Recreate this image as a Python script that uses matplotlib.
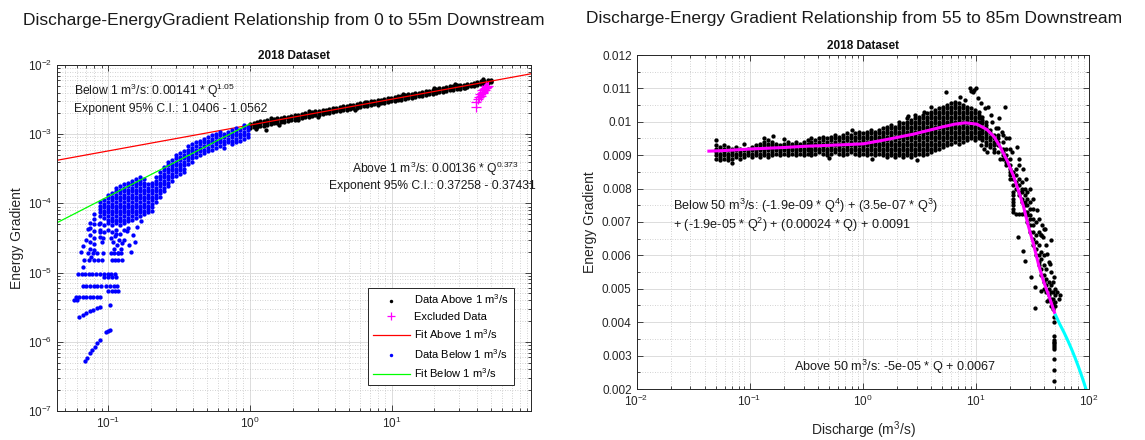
import numpy as np
import matplotlib
matplotlib.use("Agg")
import matplotlib.pyplot as plt
from matplotlib.ticker import LogLocator, FixedLocator, MultipleLocator, FuncFormatter, NullFormatter

plt.rcParams['font.family'] = ['Liberation Sans', 'DejaVu Sans']
plt.rcParams['mathtext.fontset'] = 'custom'
plt.rcParams['mathtext.rm'] = 'Liberation Sans'
plt.rcParams['mathtext.it'] = 'Liberation Sans:italic'
plt.rcParams['mathtext.bf'] = 'Liberation Sans:bold'

# ---------------- LEFT PANEL DATA (0 to 55 m) ----------------
# Data above 1 m3/s: (Q, upper, middle, lower) energy gradient in units of 1e-3
black_above_rows_milli = [
    (1.00, 1.42, 1.35, 1.22), (1.06, 1.46, 1.37, 1.25), (1.12, 1.50, 1.40, 1.28),
    (1.18, 1.53, 1.43, 1.30), (1.25, 1.56, 1.46, 1.33), (1.32, 1.59, 1.49, 1.36),
    (1.40, 1.62, 1.52, 1.40), (1.48, 1.66, 1.55, 1.43), (1.56, 1.69, 1.59, 1.46),
    (1.65, 1.72, 1.62, 1.49), (1.75, 1.76, 1.66, 1.52), (1.85, 1.80, 1.69, 1.56),
    (1.96, 1.84, 1.73, 1.60), (2.07, 1.88, 1.76, 1.63), (2.19, 1.92, 1.80, 1.67),
    (2.32, 1.96, 1.84, 1.71), (2.45, 2.00, 1.88, 1.75), (2.59, 2.04, 1.92, 1.79),
    (2.74, 2.09, 1.96, 1.83), (2.90, 2.13, 2.00, 1.87), (3.07, 2.18, 2.05, 1.92),
    (3.25, 2.22, 2.09, 1.96), (3.43, 2.27, 2.13, 2.00), (3.63, 2.32, 2.18, 2.04),
    (3.84, 2.36, 2.23, 2.09), (4.06, 2.41, 2.27, 2.13), (4.30, 2.47, 2.32, 2.18),
    (4.54, 2.52, 2.37, 2.22), (4.80, 2.57, 2.42, 2.27), (5.08, 2.63, 2.47, 2.32),
    (5.37, 2.68, 2.52, 2.37), (5.68, 2.74, 2.58, 2.42), (6.01, 2.80, 2.63, 2.47),
    (6.35, 2.85, 2.69, 2.52), (6.72, 2.92, 2.75, 2.58), (7.10, 2.97, 2.80, 2.63),
    (7.51, 3.04, 2.86, 2.69), (7.94, 3.10, 2.92, 2.74), (8.40, 3.17, 2.98, 2.80),
    (8.88, 3.23, 3.05, 2.86), (9.39, 3.30, 3.11, 2.92), (9.93, 3.37, 3.18, 2.98),
    (10.5, 3.45, 3.25, 3.05), (11.1, 3.52, 3.32, 3.11), (11.7, 3.59, 3.39, 3.17),
    (12.4, 3.67, 3.46, 3.24), (13.1, 3.75, 3.53, 3.31), (13.9, 3.83, 3.61, 3.39),
    (14.7, 3.91, 3.69, 3.46), (15.5, 3.99, 3.77, 3.53), (16.4, 4.08, 3.85, 3.61),
    (17.4, 4.17, 3.94, 3.69), (18.4, 4.27, 4.03, 3.77), (19.4, 4.37, 4.12, 3.85),
    (20.5, 4.47, 4.21, 3.93), (21.7, 4.58, 4.31, 4.02), (23.0, 4.69, 4.41, 4.11),
    (24.3, 4.80, 4.51, 4.20), (25.7, 4.92, 4.61, 4.29), (27.2, 5.03, 4.71, 4.38),
    (28.7, 5.12, 4.80, 4.46), (30.4, 5.20, 4.88, 4.55), (32.1, 5.22, 4.95, 4.70),
    (34.0, 5.30, 5.05, 4.85), (36.0, 5.40, 5.15, 4.95), (38.0, 5.55, 5.27, 5.05),
    (40.2, 5.68, 5.40, 5.15), (42.5, 5.80, 5.52, 5.25), (45.0, 5.95, 5.65, 5.38),
    (47.6, 6.05, 5.77, 5.50), (50.3, 6.15, 5.90, 5.62),
]
black_above_outliers_milli = [
    (1.10, 1.17), (1.29, 1.15), (1.60, 1.38), (2.20, 1.58), (3.00, 1.80), (5.50, 2.25),
    (8.00, 2.60), (12.0, 3.85), (28.0, 5.40), (2.60, 2.15), (6.50, 2.95), (20.0, 4.60),
    (44.0, 6.20), (33.0, 4.60), (1.40, 1.70),
]
excluded_points = [
    (39.0, 2.45e-3), (39.5, 2.9e-3), (40.5, 3.2e-3), (41.0, 3.5e-3), (42.0, 3.8e-3),
    (43.0, 4.0e-3), (43.5, 4.3e-3), (44.0, 4.1e-3), (44.5, 4.5e-3), (45.0, 4.4e-3),
    (45.5, 4.7e-3), (46.0, 4.6e-3), (46.5, 4.9e-3), (47.0, 4.8e-3), (42.5, 3.6e-3),
    (44.2, 3.9e-3), (45.8, 4.3e-3), (47.5, 5.0e-3),
]
# Data below 1 m3/s, dense part: (Q, [energy gradients])
blue_columns = [
    (0.0743, [5.2e-5, 4.4e-5, 3.5e-5, 2.8e-5, 2.2e-5]),
    (0.0800, [7.0e-5, 6.0e-5, 5.0e-5, 4.0e-5, 3.2e-5, 2.6e-5, 2.1e-5]),
    (0.0874, [1.05e-4, 9.3e-5, 8.3e-5, 7.4e-5, 6.6e-5, 5.2e-5, 4.13e-5, 3.27e-5]),
    (0.0933, [1.11e-4, 9.9e-5, 8.8e-5, 7.8e-5, 7.0e-5, 6.2e-5, 4.9e-5, 3.9e-5]),
    (0.0995, [1.32e-4, 1.18e-4, 1.05e-4, 9.3e-5, 8.3e-5, 7.4e-5, 6.6e-5, 5.85e-5, 5.2e-5, 4.13e-5]),
    (0.106, [1.40e-4, 1.25e-4, 1.11e-4, 9.9e-5, 8.8e-5, 7.8e-5, 7.0e-5, 6.2e-5, 5.5e-5, 4.9e-5, 3.9e-5]),
    (0.113, [1.67e-4, 1.49e-4, 1.32e-4, 1.18e-4, 1.05e-4, 9.3e-5, 8.3e-5, 7.4e-5, 6.6e-5, 5.85e-5, 5.2e-5, 4.13e-5]),
    (0.121, [1.77e-4, 1.575e-4, 1.40e-4, 1.25e-4, 1.11e-4, 9.9e-5, 8.8e-5, 7.8e-5, 7.0e-5, 6.2e-5, 5.5e-5, 4.9e-5]),
    (0.129, [1.88e-4, 1.67e-4, 1.49e-4, 1.32e-4, 1.18e-4, 1.05e-4, 9.3e-5, 8.3e-5, 7.4e-5, 6.6e-5, 5.85e-5, 5.2e-5, 4.13e-5]),
    (0.138, [1.99e-4, 1.77e-4, 1.575e-4, 1.40e-4, 1.25e-4, 1.11e-4, 9.9e-5, 8.8e-5, 7.8e-5, 7.0e-5, 6.2e-5, 5.5e-5, 4.38e-5]),
    (0.147, [2.11e-4, 1.88e-4, 1.67e-4, 1.49e-4, 1.32e-4, 1.18e-4, 1.05e-4, 9.3e-5, 8.3e-5, 7.4e-5, 6.6e-5, 5.85e-5]),
    (0.157, [2.24e-4, 1.99e-4, 1.77e-4, 1.575e-4, 1.40e-4, 1.25e-4, 1.11e-4, 9.9e-5, 8.8e-5, 7.8e-5, 7.0e-5, 6.2e-5]),
    (0.167, [2.37e-4, 2.11e-4, 1.88e-4, 1.67e-4, 1.49e-4, 1.32e-4, 1.18e-4, 1.05e-4, 9.3e-5, 8.3e-5, 7.4e-5, 6.6e-5]),
    (0.178, [2.24e-4, 1.99e-4, 1.77e-4, 1.575e-4, 1.40e-4, 1.25e-4, 1.11e-4, 9.9e-5, 8.8e-5, 7.8e-5, 7.0e-5]),
    (0.190, [1.88e-4, 1.67e-4, 1.49e-4, 1.32e-4, 1.18e-4, 1.05e-4, 9.3e-5, 8.3e-5, 7.4e-5]),
    (0.203, [1.99e-4, 1.77e-4, 1.575e-4, 1.40e-4, 1.25e-4, 1.11e-4, 9.9e-5, 8.8e-5, 7.8e-5]),
    (0.217, [2.37e-4, 2.11e-4, 1.88e-4, 1.67e-4, 1.49e-4, 1.32e-4, 1.18e-4, 1.05e-4]),
    (0.231, [2.82e-4, 2.51e-4, 2.24e-4, 1.99e-4, 1.77e-4, 1.575e-4, 1.40e-4, 1.25e-4]),
    (0.247, [3.36e-4, 2.99e-4, 2.66e-4, 2.37e-4, 2.11e-4, 1.88e-4, 1.67e-4, 1.49e-4]),
    (0.263, [4.0e-4, 3.56e-4, 3.17e-4, 2.82e-4, 2.51e-4, 2.24e-4, 1.99e-4, 1.77e-4]),
    (0.281, [4.24e-4, 3.77e-4, 3.36e-4, 2.99e-4, 2.66e-4, 2.37e-4, 2.11e-4]),
    (0.300, [5.05e-4, 4.49e-4, 4.0e-4, 3.56e-4, 3.17e-4, 2.82e-4, 2.51e-4]),
    (0.320, [5.35e-4, 4.76e-4, 4.24e-4, 3.77e-4, 3.36e-4, 2.99e-4, 2.66e-4]),
    (0.341, [5.67e-4, 5.05e-4, 4.49e-4, 4.0e-4, 3.56e-4, 3.17e-4, 2.82e-4]),
    (0.364, [6.75e-4, 6.01e-4, 5.35e-4, 4.76e-4, 4.24e-4, 3.77e-4]),
    (0.388, [7.16e-4, 6.37e-4, 5.67e-4, 5.05e-4, 4.49e-4, 4.0e-4]),
    (0.415, [7.59e-4, 6.75e-4, 6.01e-4, 5.35e-4, 4.76e-4]),
    (0.443, [8.04e-4, 7.16e-4, 6.37e-4, 5.67e-4, 5.05e-4]),
    (0.472, [8.52e-4, 7.59e-4, 6.75e-4, 6.01e-4, 5.35e-4]),
    (0.504, [9.03e-4, 8.04e-4, 7.16e-4, 6.37e-4, 5.67e-4]),
    (0.537, [9.58e-4, 8.52e-4, 7.59e-4, 6.75e-4, 6.01e-4]),
    (0.573, [1.015e-3, 9.03e-4, 8.04e-4, 7.16e-4, 6.37e-4]),
    (0.612, [1.08e-3, 9.58e-4, 8.52e-4, 7.59e-4, 6.75e-4]),
    (0.653, [1.015e-3, 9.03e-4, 8.04e-4, 7.16e-4, 6.37e-4]),
    (0.697, [1.08e-3, 9.58e-4, 8.52e-4, 7.59e-4]),
    (0.743, [1.14e-3, 1.015e-3, 9.03e-4, 8.04e-4, 7.16e-4]),
    (0.793, [1.21e-3, 1.08e-3, 9.58e-4, 8.52e-4, 7.59e-4]),
    (0.846, [1.14e-3, 1.015e-3, 9.03e-4, 8.04e-4]),
    (0.902, [1.36e-3, 1.21e-3, 1.08e-3, 9.58e-4, 8.52e-4]),
    (0.963, [1.28e-3, 1.14e-3, 1.015e-3, 9.03e-4]),
]
# Data below 1 m3/s, sparse part: (Q, energy gradient)
blue_sparse = [
    (0.072, 1.9e-5), (0.078, 1.9e-5), (0.084, 1.9e-5), (0.092, 1.9e-5), (0.104, 1.9e-5),
    (0.110, 1.9e-5), (0.117, 1.9e-5), (0.124, 1.9e-5),
    (0.068, 1.5e-5), (0.073, 1.5e-5), (0.079, 1.5e-5), (0.085, 1.5e-5), (0.091, 1.5e-5),
    (0.106, 1.5e-5), (0.112, 1.5e-5), (0.118, 1.5e-5), (0.125, 1.5e-5),
    (0.0615, 9.5e-6), (0.065, 9.5e-6), (0.069, 9.5e-6), (0.073, 9.5e-6), (0.077, 9.5e-6),
    (0.082, 9.5e-6), (0.087, 9.5e-6), (0.093, 9.5e-6), (0.099, 9.5e-6), (0.105, 9.5e-6),
    (0.111, 9.5e-6),
    (0.094, 8.5e-6), (0.100, 8.5e-6), (0.107, 8.5e-6), (0.113, 8.5e-6),
    (0.066, 6.3e-6), (0.070, 6.3e-6), (0.074, 6.3e-6), (0.079, 6.3e-6), (0.084, 6.3e-6),
    (0.089, 6.3e-6), (0.096, 6.3e-6), (0.103, 6.3e-6), (0.110, 6.3e-6), (0.115, 6.3e-6),
    (0.100, 5.4e-6), (0.106, 5.4e-6), (0.112, 5.4e-6), (0.117, 5.4e-6),
    (0.059, 4.4e-6), (0.062, 4.4e-6), (0.066, 4.4e-6), (0.070, 4.4e-6), (0.074, 4.4e-6),
    (0.078, 4.4e-6), (0.083, 4.4e-6), (0.088, 4.4e-6), (0.057, 4.0e-6), (0.060, 4.0e-6),
    (0.062, 2.3e-6), (0.066, 2.45e-6), (0.070, 2.6e-6), (0.074, 2.75e-6), (0.078, 2.9e-6),
    (0.083, 3.05e-6), (0.087, 3.2e-6), (0.103, 3.4e-6),
    (0.0686, 5.2e-7), (0.071, 5.9e-7), (0.0743, 6.8e-7), (0.0775, 7.6e-7), (0.0806, 8.5e-7),
    (0.084, 9.5e-7), (0.0875, 1.06e-6), (0.096, 1.38e-6), (0.100, 1.45e-6), (0.1029, 1.5e-6),
    (0.104, 3.2e-5), (0.108, 2.8e-5), (0.112, 3.4e-5), (0.116, 2.5e-5), (0.120, 3.0e-5),
    (0.124, 2.2e-5), (0.110, 2.2e-5), (0.118, 1.9e-5), (0.114, 3.6e-5), (0.126, 2.7e-5),
    (0.122, 3.6e-5), (0.130, 3.0e-5), (0.140, 2.5e-5), (0.150, 3.5e-5), (0.160, 4.5e-5),
    (0.170, 5.5e-5), (0.145, 2.0e-5), (0.135, 4.0e-5), (0.155, 2.8e-5),
    (0.064, 2.0e-5), (0.066, 1.2e-5), (0.070, 3.0e-5), (0.067, 2.4e-5), (0.072, 4.2e-5),
    (0.076, 1.7e-5), (0.088, 3.8e-5), (0.090, 2.8e-5), (0.092, 3.2e-5), (0.086, 5.0e-5),
]
# Fit lines (endpoints on the log-log axes)
fit_above_q = [0.0436, 96.0]
fit_above_g = [4.2e-4, 7.46e-3]
fit_below_q = [0.0436, 1.0]
fit_below_g = [5.26e-5, 1.41e-3]

# ---------------- RIGHT PANEL DATA (55 to 85 m) ----------------
right_columns = [
    (0.0505, [.0089, .0090, .0091, .0092, .0093]),
    (0.0548, [.00885, .00895, .00905, .00915, .00925]),
    (0.0594, [.0089, .0090, .0091, .0092, .0093]),
    (0.0644, [.00885, .00895, .00905, .00915, .00925]),
    (0.0698, [.0089, .0090, .0091, .0092]),
    (0.0757, [.00895, .00905, .00915, .00925]),
    (0.0821, [.0089, .0090, .0091, .0092]),
    (0.0890, [.00895, .00905, .00915]),
    (0.0965, [.0090, .0091, .0092]),
    (0.105, [.00895, .00905, .00915, .00925]),
    (0.113, [.0090, .0091, .0092, .0093]),
    (0.123, [.00895, .00905, .00915, .00925, .00935]),
    (0.133, [.0090, .0091, .0092, .0093, .0094, .0095]),
    (0.145, [.00895, .00905, .00915, .00925, .00935, .00945]),
    (0.157, [.0090, .0091, .0092, .0093, .0094]),
    (0.170, [.00905, .00915, .00925, .00935]),
    (0.184, [.0090, .0091, .0092, .0093]),
    (0.200, [.00905, .00915, .00925, .00935]),
    (0.217, [.0090, .0091, .0092, .0093, .0094]),
    (0.235, [.00905, .00915, .00925, .00935]),
    (0.255, [.0090, .0091, .0092, .0093, .0094]),
    (0.276, [.00905, .00915, .00925, .00935]),
    (0.300, [.0090, .0091, .0092, .0093, .0094]),
    (0.325, [.00905, .00915, .00925, .00935, .00945]),
    (0.352, [.0090, .0091, .0092, .0093, .0094, .0095]),
    (0.382, [.00905, .00915, .00925, .00935, .00945]),
    (0.414, [.0091, .0092, .0093, .0094, .0095]),
    (0.449, [.00905, .00915, .00925, .00935, .00945, .00955]),
    (0.487, [.0090, .0091, .0092, .0093, .0094, .0095]),
    (0.528, [.00905, .00915, .00925, .00935, .00945, .00955]),
    (0.573, [.0091, .0092, .0093, .0094, .0095, .0096]),
    (0.621, [.00905, .00915, .00925, .00935, .00945, .00955]),
    (0.673, [.0090, .0091, .0092, .0093, .0094, .0095, .0096]),
    (0.730, [.00905, .00915, .00925, .00935, .00945, .00955, .00965]),
    (0.791, [.0091, .0092, .0093, .0094, .0095, .0096]),
    (0.858, [.00905, .00915, .00925, .00935, .00945, .00955, .00965]),
    (0.931, [.0090, .0091, .0092, .0093, .0094, .0095, .0096, .0097]),
    (1.01, [.00905, .00915, .00925, .00935, .00945, .00955, .00965]),
    (1.09, [.0090, .0091, .0092, .0093, .0094, .0095, .0096, .0097]),
    (1.19, [.00905, .00915, .00925, .00935, .00945, .00955, .00965, .00975]),
    (1.29, [.0090, .0091, .0092, .0093, .0094, .0095, .0096, .0097]),
    (1.39, [.00905, .00915, .00925, .00935, .00945, .00955, .00965, .00975]),
    (1.51, [.0090, .0091, .0092, .0093, .0094, .0095, .0096, .0097, .0098]),
    (1.64, [.00895, .00905, .00915, .00925, .00935, .00945, .00955, .00965, .00975, .00985]),
    (1.78, [.0090, .0091, .0092, .0093, .0094, .0095, .0096, .0097, .0098, .0099]),
    (1.93, [.00895, .00905, .00915, .00925, .00935, .00945, .00955, .00965, .00975, .00985]),
    (2.09, [.0090, .0091, .0092, .0093, .0094, .0095, .0096, .0097, .0098, .0099, .0100]),
    (2.27, [.00895, .00905, .00915, .00925, .00935, .00945, .00955, .00965, .00975, .00985, .00995]),
    (2.46, [.0090, .0091, .0092, .0093, .0094, .0095, .0096, .0097, .0098, .0099, .0100, .0101]),
    (2.67, [.00895, .00905, .00915, .00925, .00935, .00945, .00955, .00965, .00975, .00985, .00995, .01005]),
    (2.89, [.0090, .0091, .0092, .0093, .0094, .0095, .0096, .0097, .0098, .0099, .0100, .0101, .0102]),
    (3.13, [.00905, .00915, .00925, .00935, .00945, .00955, .00965, .00975, .00985, .00995, .01005, .01015]),
    (3.40, [.0090, .0091, .0092, .0093, .0094, .0095, .0096, .0097, .0098, .0099, .0100, .0101, .0102]),
    (3.68, [.00905, .00915, .00925, .00935, .00945, .00955, .00965, .00975, .00985, .00995, .01005, .01015, .01025]),
    (3.99, [.0091, .0092, .0093, .0094, .0095, .0096, .0097, .0098, .0099, .0100, .0101, .0102, .0103]),
    (4.33, [.00915, .00925, .00935, .00945, .00955, .00965, .00975, .00985, .00995, .01005, .01015, .01025, .01035]),
    (4.70, [.0092, .0093, .0094, .0095, .0096, .0097, .0098, .0099, .0100, .0101, .0102, .0103, .0104]),
    (5.09, [.00925, .00935, .00945, .00955, .00965, .00975, .00985, .00995, .01005, .01015, .01025, .01035, .01045]),
    (5.52, [.0093, .0094, .0095, .0096, .0097, .0098, .0099, .0100, .0101, .0102, .0103, .0104, .0105]),
    (5.99, [.00935, .00945, .00955, .00965, .00975, .00985, .00995, .01005, .01015, .01025, .01035, .01045, .01055]),
    (6.49, [.0094, .0095, .0096, .0097, .0098, .0099, .0100, .0101, .0102, .0103, .0104, .0105, .0106]),
    (7.04, [.00935, .00945, .00955, .00965, .00975, .00985, .00995, .01005, .01015, .01025, .01035, .01045, .01055]),
    (7.63, [.0094, .0095, .0096, .0097, .0098, .0099, .0100, .0101, .0102, .0103, .0104, .0105]),
    (8.28, [.00945, .00955, .00965, .00975, .00985, .00995, .01005, .01015, .01025, .01035, .01045]),
    (8.97, [.0095, .0096, .0097, .0098, .0099, .0100, .0101, .0102, .0103, .0104]),
    (9.73, [.00945, .00955, .00965, .00975, .00985, .00995, .01005, .01015, .01025, .01035]),
    (10.55, [.0095, .0096, .0097, .0098, .0099, .0100, .0101, .0102, .0103]),
    (11.44, [.00945, .00955, .00965, .00975, .00985, .00995, .01005, .01015]),
    (12.41, [.0093, .0094, .0095, .0096, .0097, .0098, .0099, .0100]),
    (13.45, [.00925, .00935, .00945, .00955, .00965, .00975]),
    (14.59, [.0092, .0093, .0094, .0095, .0096]),
    (15.8, [.0091, .0093, .0094, .0095, .0096, .0098]),
    (17.2, [.0089, .0090, .0091, .0092, .0094, .0096]),
    (18.6, [.0087, .0088, .0089, .0090, .0092, .0095]),
    (20.2, [.0083, .0084, .0085, .0086, .0087, .0089, .0092]),
    (21.5, [.0073, .0074, .0075, .0076, .0077, .0078, .0079, .0081, .0083, .0085]),
    (22.5, [.00725, .0080, .0082, .0084, .0086]),
    (24.0, [.00725, .0078, .0079, .0081, .0083, .0087]),
    (25.5, [.00725, .0076, .0077, .0079, .0080, .0082]),
    (27.0, [.00725, .0073, .0075, .0076, .0078, .0080]),
    (28.5, [.0070, .0072, .0073, .0075, .0077, .0079]),
    (30.0, [.0067, .0069, .0071, .0072, .0074, .0076]),
    (32.0, [.0063, .0065, .0067, .0069, .0071, .0074]),
    (34.0, [.0060, .0062, .0064, .0066, .0070]),
    (36.0, [.0057, .0058, .0060, .0063, .0067]),
    (38.0, [.0054, .0056, .0059, .0061, .0066]),
    (40.0, [.0050, .0052, .0054, .0057, .0060, .0068]),
    (42.0, [.0049, .0051, .0053, .0056, .0063]),
    (44.0, [.0047, .0048, .0050, .0052, .0058]),
    (46.0, [.0045, .0046, .0047, .0049, .0051, .0055]),
    (48.0, [.0044, .00455, .0047, .0049, .0052]),
    (50.0, [.0045, .0046, .0048, .0050]),
    (48.6, [.00415, .0040, .00359, .00348, .00342, .00337, .00331, .00327, .00321, .00289, .00256, .00224]),
]
right_sparse = [
    (0.050, .00945), (0.070, .00878), (0.090, .00935), (0.200, .00948), (0.160, .00958),
    (0.500, .00892), (0.800, .00975), (1.20, .00888), (3.00, .00885), (4.00, .01045),
    (3.50, .01030), (2.50, .01018), (5.40, .01090), (7.20, .01075), (8.80, .01100),
    (9.10, .01093), (9.40, .01088), (9.70, .01095), (10.0, .01102), (8.00, .01065),
    (10.5, .01070), (11.2, .01055), (12.0, .01040), (12.8, .01045), (13.5, .01020),
    (11.0, .00930), (11.8, .00920), (12.6, .00910), (14.0, .01000), (15.0, .00980),
    (16.0, .01010), (18.1, .01045), (17.0, .00970), (15.5, .00940), (14.5, .00910),
    (16.2, .00890), (19.5, .00950), (21.0, .00910), (22.9, .00925), (24.0, .00890),
    (26.0, .00860), (28.0, .00830), (30.0, .00800), (32.0, .00770), (34.5, .00735),
    (36.0, .00710), (38.0, .00660), (40.6, .00680), (38.5, .00690), (42.5, .00605),
    (45.5, .00575), (46.5, .00645), (49.4, .00534), (23.4, .00655), (26.3, .00614),
    (27.2, .00584), (30.9, .00534), (33.2, .00504), (33.2, .00444), (39.0, .00655),
    (52.0, .00490), (54.0, .00470), (55.0, .00480), (38.0, .00494), (42.5, .00464),
]
poly_fit_q = [0.0423, 0.06, 0.108, 0.2, 0.32, 0.55, 1.01, 1.63, 2.8, 4.83, 6.5, 8.03,
              10.2, 12.5, 14.5, 16.4, 19.0, 21.5, 24.0, 26.3, 29.0, 32.2, 36.0, 39.0,
              42.4, 46.0, 50.0]
poly_fit_g = [0.00912, 0.00914, 0.00919, 0.00923, 0.00927, 0.00930, 0.00934, 0.00947,
              0.00963, 0.00983, 0.00993, 0.00997, 0.00993, 0.00977, 0.00955, 0.00925,
              0.00882, 0.00838, 0.00790, 0.00748, 0.00690, 0.00635, 0.00570, 0.00530,
              0.00495, 0.00462, 0.00425]
lin_fit_q = [50.0, 55.0, 60.0, 65.0, 70.0, 75.0, 80.0, 85.0, 90.0, 95.0, 100.0]
lin_fit_g = [0.00425, 0.00395, 0.0037, 0.00345, 0.0032, 0.00295, 0.0027, 0.00245,
             0.0022, 0.00195, 0.0017]
right_yticks = [0.002, 0.003, 0.004, 0.005, 0.006, 0.007, 0.008, 0.009, 0.010, 0.011, 0.012]


def flatten(cols):
    q, g = [], []
    for qq, gs in cols:
        q.extend([qq] * len(gs))
        g.extend(gs)
    return q, g


# ---------------- FIGURE ----------------
W, H = 1145, 440
fig = plt.figure(figsize=(W / 100, H / 100), dpi=100)


def px_axes(l, t, r, b):
    return fig.add_axes([l / W, 1 - b / H, (r - l) / W, (b - t) / H])


DARK = '#262626'
ax1 = px_axes(57, 65, 531, 411)
ax2 = px_axes(636.5, 55, 1089, 389)

MS = 3.1
# Left panel
bq = [r[0] for r in black_above_rows_milli]
bq_all = bq * 3 + [o[0] for o in black_above_outliers_milli]
bg_all = ([r[1] * 1e-3 for r in black_above_rows_milli] + [r[2] * 1e-3 for r in black_above_rows_milli]
          + [r[3] * 1e-3 for r in black_above_rows_milli] + [o[1] * 1e-3 for o in black_above_outliers_milli])
h_black, = ax1.plot(bq_all, bg_all, ls='none', marker='o', ms=MS, mec='none', color='k',
                    label='Data Above 1 m$^3$/s')
h_excl, = ax1.plot([p[0] for p in excluded_points], [p[1] for p in excluded_points], ls='none',
                   marker='+', ms=7, mew=0.9, color='#ff00ff', label='Excluded Data')
h_red, = ax1.plot(fit_above_q, fit_above_g, color='#ff0000', lw=0.9, label='Fit Above 1 m$^3$/s')
blq, blg = flatten(blue_columns)
blq += [p[0] for p in blue_sparse]
blg += [p[1] for p in blue_sparse]
h_blue, = ax1.plot(blq, blg, ls='none', marker='o', ms=MS, mec='none', color='#0000ff',
                   label='Data Below 1 m$^3$/s')
h_green, = ax1.plot(fit_below_q, fit_below_g, color='#00ff00', lw=0.9, label='Fit Below 1 m$^3$/s')

ax1.set_xscale('log')
ax1.set_yscale('log')
ax1.set_xlim(0.0436, 96)
ax1.set_ylim(1e-7, 1e-2)

# Right panel
rq, rg = flatten(right_columns)
rq += [p[0] for p in right_sparse]
rg += [p[1] for p in right_sparse]
ax2.plot(rq, rg, ls='none', marker='o', ms=MS, mec='none', color='k')
ax2.plot(poly_fit_q, poly_fit_g, color='#ff00ff', lw=2.2, solid_capstyle='butt')
ax2.plot(lin_fit_q, lin_fit_g, color='#00ffff', lw=2.2, solid_capstyle='butt')
ax2.set_xscale('log')
ax2.set_xlim(0.01, 100)
ax2.set_ylim(0.002, 0.012)
ax2.yaxis.set_major_locator(FixedLocator(right_yticks))
ax2.yaxis.set_major_formatter(FuncFormatter(lambda v, p: '%g' % round(v, 4)))
ax2.yaxis.set_minor_locator(MultipleLocator(0.0005))

for ax in (ax1, ax2):
    ax.xaxis.set_major_locator(LogLocator(base=10, numticks=20))
    ax.xaxis.set_minor_locator(LogLocator(base=10, subs=np.arange(2, 10), numticks=20))
    ax.xaxis.set_minor_formatter(NullFormatter())
    ax.grid(which='major', color='#dcdcdc', lw=0.7, ls='-')
    ax.grid(which='minor', color='#c4c4c4', lw=0.6, ls=(0, (1, 2)))
    ax.set_axisbelow(True)
    ax.tick_params(which='both', direction='in', top=True, right=True, colors=DARK,
                   labelsize=8.5, width=0.6)
    ax.tick_params(which='major', length=4)
    ax.tick_params(which='minor', length=2)
    for s in ax.spines.values():
        s.set_color(DARK)
        s.set_linewidth(0.7)
    ax.set_title('2018 Dataset', fontweight='bold', fontsize=8.5, pad=4, color='#111111')

ax1.yaxis.set_major_locator(LogLocator(base=10, numticks=20))
ax1.yaxis.set_minor_locator(LogLocator(base=10, subs=np.arange(2, 10), numticks=20))
ax1.yaxis.set_minor_formatter(NullFormatter())

leg = ax1.legend(handles=[h_black, h_excl, h_red, h_blue, h_green], loc='lower right',
                 bbox_to_anchor=(0.964, 0.075), fontsize=8, frameon=True, fancybox=False,
                 edgecolor=DARK, framealpha=1, borderpad=0.45, labelspacing=0.5,
                 handlelength=3.3, handletextpad=0.4, borderaxespad=0, markerscale=0.8)
leg.get_frame().set_linewidth(0.7)

TXT = '#1a1a1a'
ax1.text(74 / W, 1 - 91 / H, 'Below 1 m$^3$/s: 0.00141 * Q$^{1.05}$', transform=fig.transFigure,
         fontsize=8.7, ha='left', va='center', color=TXT)
ax1.text(74 / W, 1 - 109 / H, 'Exponent 95% C.I.: 1.0406 - 1.0562', transform=fig.transFigure,
         fontsize=8.7, ha='left', va='center', color=TXT)
ax1.text(435 / W, 1 - 169 / H, 'Above 1 m$^3$/s: 0.00136 * Q$^{0.373}$', transform=fig.transFigure,
         fontsize=8.7, ha='center', va='center', color=TXT)
ax1.text(432 / W, 1 - 186 / H, 'Exponent 95% C.I.: 0.37258 - 0.37431', transform=fig.transFigure,
         fontsize=8.7, ha='center', va='center', color=TXT)

ax2.text(673 / W, 1 - 206 / H, 'Below 50 m$^3$/s: (-1.9e-09 * Q$^4$) + (3.5e-07 * Q$^3$)',
         transform=fig.transFigure, fontsize=9.1, ha='left', va='center', color=TXT)
ax2.text(673 / W, 1 - 225 / H, '+ (-1.9e-05 * Q$^2$) + (0.00024 * Q) + 0.0091',
         transform=fig.transFigure, fontsize=9.1, ha='left', va='center', color=TXT)
ax2.text(794 / W, 1 - 367 / H, 'Above 50 m$^3$/s: -5e-05 * Q + 0.0067',
         transform=fig.transFigure, fontsize=9.1, ha='left', va='center', color=TXT)

fig.text(17 / W, 1 - 238 / H, 'Energy Gradient', rotation=90, ha='center', va='center',
         fontsize=10, color=DARK)
fig.text(590 / W, 1 - 222 / H, 'Energy Gradient', rotation=90, ha='center', va='center',
         fontsize=10, color=DARK)
fig.text(864 / W, 1 - 430 / H, 'Discharge (m$^3$/s)', ha='center', va='center',
         fontsize=10, color=DARK)

fig.text(284 / W, 1 - 21 / H, 'Discharge-EnergyGradient Relationship from 0 to 55m Downstream',
         ha='center', va='center', fontsize=12.5, color='#1a1a1a')
fig.text(854 / W, 1 - 18 / H, 'Discharge-Energy Gradient Relationship from 55 to 85m Downstream',
         ha='center', va='center', fontsize=12.5, color='#1a1a1a')

fig.savefig('out.png', dpi=100)
